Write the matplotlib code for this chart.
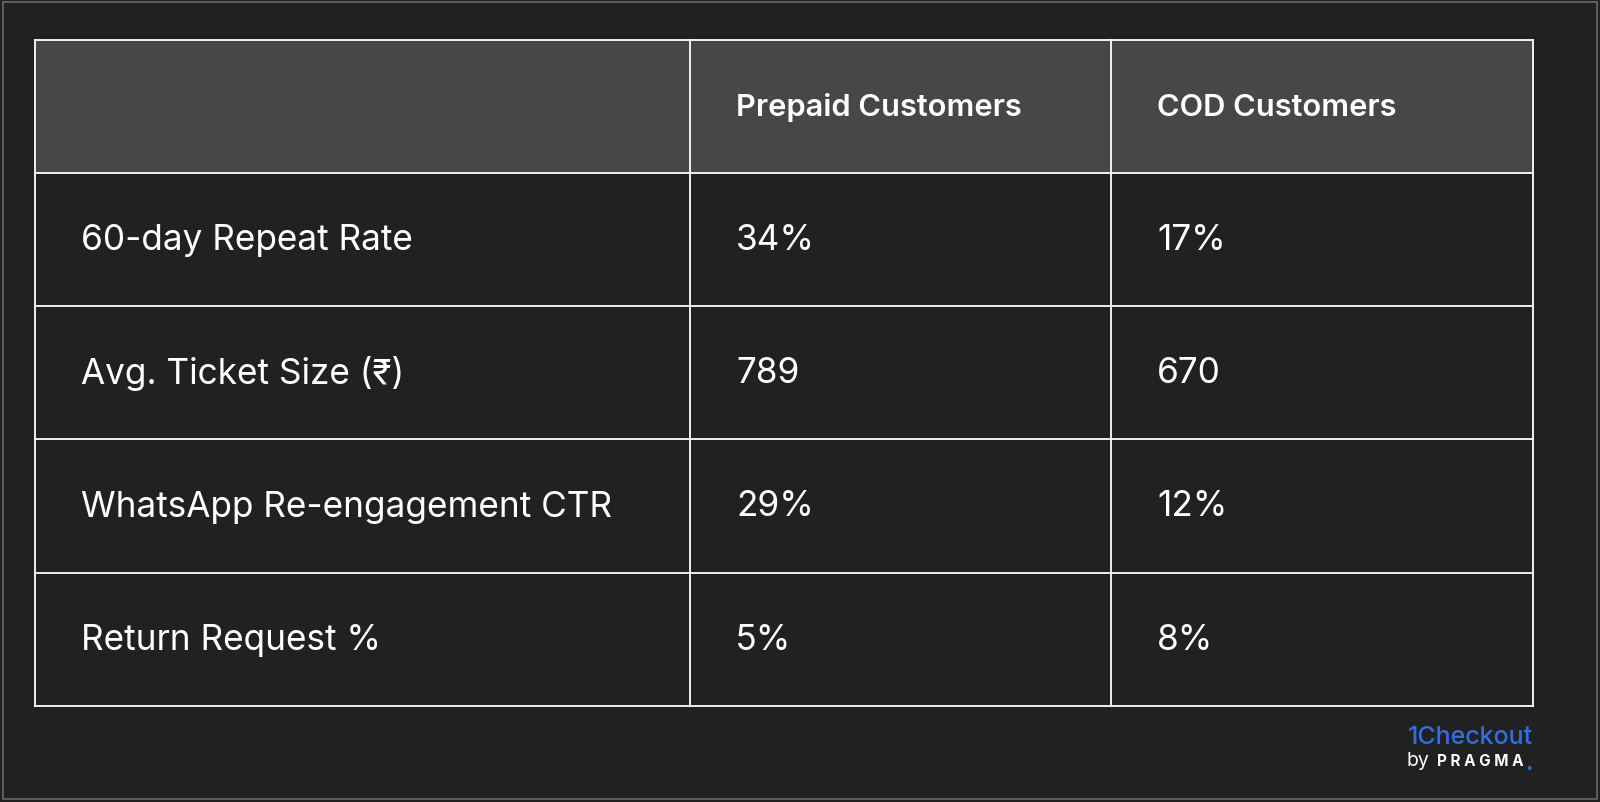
import matplotlib
matplotlib.use("Agg")
import matplotlib.pyplot as plt
from matplotlib.patches import Rectangle

columns = ["", "Prepaid Customers", "COD Customers"]
metrics = ["60-day Repeat Rate", "Avg. Ticket Size (₹)", "WhatsApp Re-engagement CTR", "Return Request %"]
prepaid = ["34%", "789", "29%", "5%"]
cod = ["17%", "670", "12%", "8%"]

W, H = 1600, 803
fig = plt.figure(figsize=(W/100, H/100), dpi=100, facecolor="#212121")
ax = fig.add_axes([0, 0, 1, 1])
ax.set_xlim(0, W); ax.set_ylim(H, 0); ax.axis("off")
plt.rcParams["font.family"] = ["Inter", "DejaVu Sans"]

ax.add_patch(Rectangle((3, 3), W-6, H-6, fill=False, ec="#6a6a6a", lw=1.2))
xs = [35, 690, 1111, 1533]
ys = [41, 174, 307, 440, 574, 707]
ax.add_patch(Rectangle((xs[0], ys[0]), xs[-1]-xs[0], ys[1]-ys[0], fc="#484746", ec="none"))
for x in xs:
    ax.plot([x, x], [ys[0], ys[-1]], color="white", lw=1.3)
for y in ys:
    ax.plot([xs[0], xs[-1]], [y, y], color="white", lw=1.3)

fs = 25.3
for j, c in enumerate(columns):
    if c:
        ax.text(xs[j]+46, (ys[0]+ys[1])/2, c, color="white", fontsize=22.2, fontweight="semibold", va="center", ha="left")
for i in range(len(metrics)):
    yc = (ys[i+1]+ys[i+2])/2
    for j, v in enumerate([metrics[i], prepaid[i], cod[i]]):
        ax.text(xs[j]+46, yc, v, color="white", fontsize=fs, va="center", ha="left",
                fontfamily=["Inter", "DejaVu Sans"])

ax.text(1533, 738, "1Checkout", color="#2f6fe0", fontsize=18, fontweight="medium", ha="right", va="center")
ax.text(1406, 761, "by", color="white", fontsize=14, ha="left", va="center")
ax.text(1437, 762, "P R A G M A", color="white", fontsize=11, fontweight="bold", ha="left", va="center")
ax.text(1533, 764, ".", color="#2f6fe0", fontsize=16, fontweight="bold", ha="right", va="center")

fig.savefig("out.png", dpi=100, facecolor=fig.get_facecolor())
